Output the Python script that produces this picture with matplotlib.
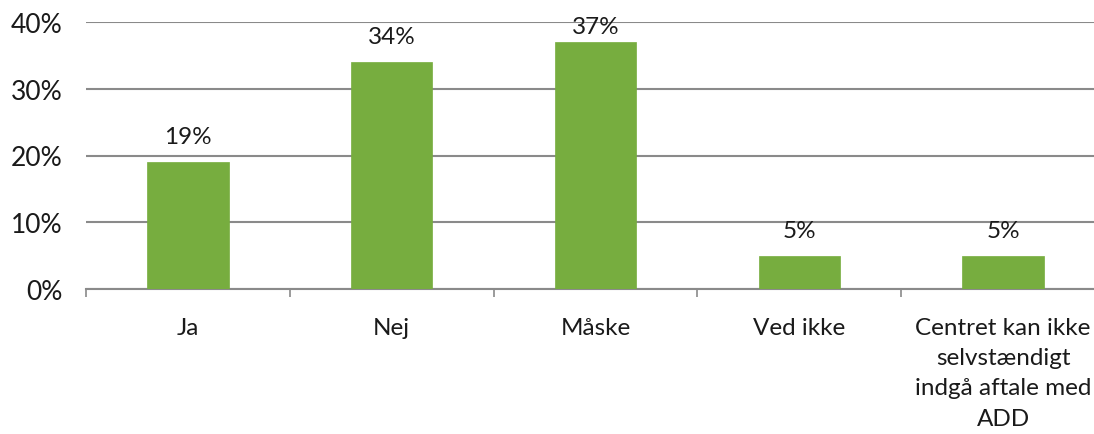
import numpy as np
import matplotlib
matplotlib.use("Agg")
import matplotlib.pyplot as plt
from matplotlib.ticker import FuncFormatter, FixedLocator

kategorier = ["Ja", "Nej", "Måske", "Ved ikke",
              "Centret kan ikke\nselvstændigt\nindgå aftale med\nADD"]
andele = [19, 34, 37, 5, 5]
y_ticks = [0, 10, 20, 30, 40]

plt.rcParams['font.family'] = ['Lato', 'DejaVu Sans']

fig = plt.figure(figsize=(10.94, 4.35), dpi=100)
ax = fig.add_axes([86 / 1094, 1 - 290 / 435, 1019 / 1094, 267 / 435])

x = np.arange(len(kategorier))
ax.bar(x, andele, width=0.40, color="#77ad3f", zorder=3,
       edgecolor="#77ad3f", linewidth=0.5)

# labels sit above the bars but are kept inside the plot area
for xi, v in zip(x, andele):
    ax.text(xi, min(v + 2.2, 37.7), f"{v}%", ha="center", va="bottom",
            fontsize=17.5, color="#1a1a1a", zorder=4)

ax.set_xlim(-0.5, len(kategorier) - 0.5)
ax.set_ylim(0, 40)
ax.set_yticks(y_ticks)
ax.yaxis.set_major_formatter(FuncFormatter(lambda v, p: f"{int(v)}%"))
ax.grid(axis="y", color="#8a8a8a", linewidth=1.5, zorder=1)
ax.tick_params(axis="y", length=0, labelsize=19, pad=17, labelcolor="#1a1a1a")

ax.set_xticks(x)
ax.set_xticklabels(kategorier, fontsize=17.5, linespacing=1.55, color="#1a1a1a")
ax.tick_params(axis="x", which="major", length=0, pad=20)
ax.xaxis.set_minor_locator(FixedLocator(np.arange(-0.5, len(kategorier), 1.0)))
ax.tick_params(axis="x", which="minor", length=6, width=1.2, color="#8a8a8a")

for side in ["left", "right", "top"]:
    ax.spines[side].set_visible(False)
ax.spines["bottom"].set_color("#8a8a8a")
ax.spines["bottom"].set_linewidth(1.5)

fig.savefig("out.png", dpi=100)
